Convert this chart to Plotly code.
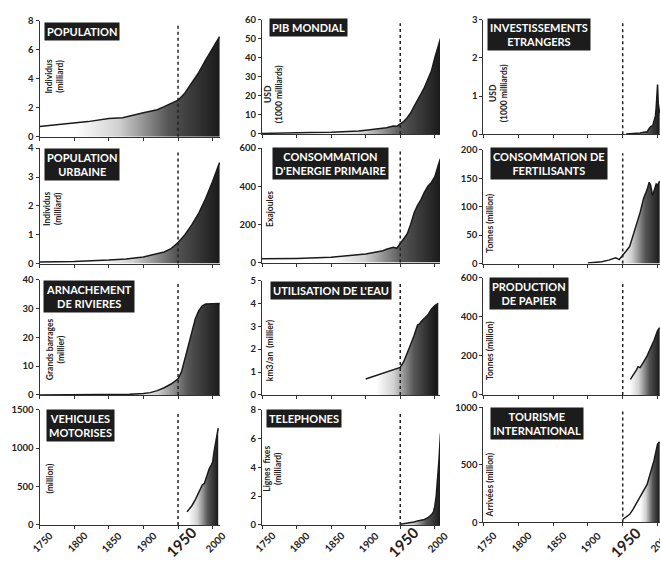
import plotly.graph_objects as go

W, H = 660, 562

# ---------------- data ----------------
pop_years = [1750, 1760, 1800, 1820, 1850, 1870, 1900, 1910, 1920, 1930, 1940, 1950, 1960, 1970, 1980, 1990, 2000, 2010]
pop_vals = [0.70, 0.75, 0.98, 1.04, 1.26, 1.30, 1.65, 1.75, 1.86, 2.07, 2.30, 2.52, 3.02, 3.70, 4.44, 5.30, 6.10, 6.90]

gdp_years = [1750, 1800, 1820, 1850, 1870, 1890, 1900, 1913, 1920, 1930, 1940, 1945, 1950, 1955, 1960, 1965, 1970, 1975, 1980, 1985, 1990, 1995, 2000, 2003, 2005, 2008, 2010]
gdp_vals = [0.3, 0.4, 0.7, 0.9, 1.1, 1.6, 2.0, 2.7, 2.7, 3.3, 4.2, 4.0, 5.3, 6.5, 8.5, 11, 14.5, 17.5, 21, 24.5, 29, 33, 40, 44, 47, 50, 51]

fdi_years = [1955, 1960, 1970, 1975, 1980, 1985, 1988, 1990, 1993, 1995, 1997, 1998, 1999, 2000, 2001, 2002, 2003]
fdi_vals = [0.005, 0.01, 0.015, 0.03, 0.05, 0.06, 0.15, 0.2, 0.22, 0.33, 0.48, 0.7, 1.1, 1.3, 0.8, 0.6, 0.55]

urb_years = [1750, 1800, 1850, 1875, 1900, 1920, 1930, 1940, 1950, 1960, 1970, 1980, 1990, 2000, 2010]
urb_vals = [0.05, 0.07, 0.12, 0.16, 0.23, 0.33, 0.40, 0.52, 0.73, 1.00, 1.35, 1.75, 2.26, 2.85, 3.50]

nrg_years = [1750, 1800, 1850, 1900, 1925, 1930, 1940, 1945, 1950, 1960, 1965, 1970, 1975, 1980, 1985, 1990, 1995, 2000, 2005, 2008]
nrg_vals = [20, 22, 28, 45, 62, 70, 80, 75, 100, 150, 200, 260, 300, 330, 370, 400, 420, 450, 510, 545]

fert_years = [1900, 1910, 1920, 1930, 1938, 1940, 1945, 1950, 1955, 1960, 1965, 1970, 1975, 1980, 1985, 1988, 1990, 1992, 1993, 1995, 1998, 2000, 2003]
fert_vals = [1, 2, 3, 6, 9, 10, 7, 14, 22, 30, 50, 68, 90, 115, 130, 143, 138, 125, 120, 128, 140, 138, 145]

dam_years = [1750, 1850, 1880, 1900, 1910, 1920, 1930, 1940, 1950, 1955, 1960, 1965, 1970, 1975, 1980, 1985, 1990, 2000, 2010]
dam_vals = [0.0, 0.05, 0.2, 0.5, 0.8, 1.5, 2.5, 3.8, 5.6, 8, 12.5, 17.5, 22.5, 26.5, 29.3, 31, 31.6, 31.8, 31.8]

water_years = [1900, 1910, 1920, 1930, 1940, 1950, 1955, 1960, 1965, 1970, 1975, 1978, 1980, 1985, 1990, 1995, 2000, 2005]
water_vals = [0.7, 0.8, 0.9, 1.0, 1.1, 1.2, 1.45, 1.8, 2.2, 2.6, 3.05, 3.1, 3.2, 3.35, 3.5, 3.75, 3.9, 4.0]

paper_years = [1961, 1965, 1970, 1972, 1975, 1980, 1985, 1990, 1995, 2000, 2003]
paper_vals = [80, 100, 130, 145, 140, 170, 200, 240, 280, 330, 345]

veh_years = [1963, 1970, 1975, 1980, 1985, 1988, 1990, 1995, 1998, 2000, 2002, 2005, 2008]
veh_vals = [170, 250, 330, 420, 520, 540, 600, 730, 780, 820, 950, 1100, 1260]

tel_years = [1950, 1960, 1970, 1975, 1980, 1985, 1990, 1995, 1998, 2000, 2002, 2004, 2006, 2008, 2010]
tel_vals = [0.05, 0.1, 0.2, 0.28, 0.33, 0.38, 0.5, 0.7, 0.9, 1.3, 2.0, 3.0, 4.5, 6.2, 7.0]

tour_years = [1950, 1955, 1960, 1965, 1970, 1975, 1980, 1985, 1990, 1995, 2000, 2003]
tour_vals = [25, 45, 70, 115, 165, 220, 275, 330, 440, 540, 680, 700]

tick_years = [1750, 1800, 1850, 1900, 1950, 2000]

titles = ["POPULATION", "PIB MONDIAL", "INVESTISSEMENTS<br>ETRANGERS",
          "POPULATION<br>URBAINE", "CONSOMMATION<br>D'ENERGIE PRIMAIRE", "CONSOMMATION DE<br>FERTILISANTS",
          "ARNACHEMENT<br>DE RIVIERES", "UTILISATION DE L'EAU", "PRODUCTION<br>DE PAPIER",
          "VEHICULES<br>MOTORISES", "TELEPHONES", "TOURISME<br>INTERNATIONAL"]
units = ["Individus<br>(milliard)", "USD<br>(1000 milliards)", "USD<br>(1000 milliards)",
         "Individus<br>(milliard)", "Exajoules", "Tonnes (million)",
         "Grands barrages<br>(millier)", "km3/an  (millier)", "Tonnes (million)",
         "(million)", "Lignes  fixes<br>(milliard)", "Arrivées (million)"]
series = [(pop_years, pop_vals), (gdp_years, gdp_vals), (fdi_years, fdi_vals),
          (urb_years, urb_vals), (nrg_years, nrg_vals), (fert_years, fert_vals),
          (dam_years, dam_vals), (water_years, water_vals), (paper_years, paper_vals),
          (veh_years, veh_vals), (tel_years, tel_vals), (tour_years, tour_vals)]
y_max = [8, 60, 3, 4, 600, 200, 40, 5, 600, 1500, 8, 1000]
y_step = [2, 10, 1, 1, 200, 50, 10, 1, 200, 500, 2, 500]

# ---------------- layout geometry (pixels) ----------------
col_px = [(39.5, 220), (262, 440), (483.3, 660)]
col_xmax = [2010.6, 2007.5, 2003.5]
row_px = [
    [(15, 133.3), (14, 130.5), (14, 130.7)],
    [(145, 262.7), (145, 261.7), (146.7, 262.7)],
    [(279.3, 396.7), (280, 396.7), (277.3, 396.7)],
    [(411.7, 529.3), (411.7, 529.3), (409.3, 526.7)],
]
title_pos = [(82, 26), (308, 22), (539, 29),
             (82, 162), (331, 161), (549, 161),
             (89, 296), (331, 290), (529, 293),
             (80, 428), (304, 421), (537, 426)]
unit_pos = [(55, 72), (273, 90), (498, 89),
            (53, 207), (270, 207), (490, 222),
            (55, 350), (270, 351), (490, 352),
            (50, 482), (273, 472), (490, 489)]
grad_range = [(1800, 2010), (1850, 2008), (1950, 2003),
              (1830, 2010), (1850, 2008), (1945, 2003),
              (1880, 2010), (1915, 2000), (1960, 2003),
              (1965, 2008), (1950, 2008), (1975, 2003)]

grad_scale = [[0, "#ffffff"], [0.3, "#d2d2d2"], [0.65, "#555555"], [1, "#1a1a1a"]]
FONT = "Lato"

fig = go.Figure()
layout = dict(width=W, height=H, margin=dict(l=0, r=0, t=0, b=0),
              paper_bgcolor="white", plot_bgcolor="white", showlegend=False)
shapes, annotations = [], []

for k in range(12):
    r, c = divmod(k, 3)
    i = k + 1
    xs, ys = series[k]
    xa = "x" if i == 1 else f"x{i}"
    ya = "y" if i == 1 else f"y{i}"
    fig.add_trace(go.Scatter(
        x=xs, y=ys, mode="lines", xaxis=xa, yaxis=ya,
        line=dict(color="#1a1a1a", width=1.5),
        fill="tozeroy",
        fillgradient=dict(type="horizontal", colorscale=grad_scale,
                          start=grad_range[k][0], stop=grad_range[k][1]),
        hoverinfo="skip"))
    x0p, x1p = col_px[c]
    t, b = row_px[r][c]
    layout[f"xaxis{i}" if i > 1 else "xaxis"] = dict(
        domain=[x0p / W, x1p / W], range=[1750, col_xmax[c]], anchor=ya,
        showgrid=False, zeroline=False, showline=True, linecolor="#333", linewidth=1,
        ticks="outside", ticklen=3, tickcolor="#333", tickvals=tick_years,
        showticklabels=False, fixedrange=True)
    layout[f"yaxis{i}" if i > 1 else "yaxis"] = dict(
        domain=[1 - b / H, 1 - t / H], range=[0, y_max[k]], anchor=xa,
        showgrid=False, zeroline=False, showline=True, linecolor="#333", linewidth=1,
        ticks="outside", ticklen=3, tickcolor="#333", dtick=y_step[k], tick0=0,
        tickfont=dict(family=FONT, size=9.5, color="#222", weight="bold"),
        fixedrange=True)
    # 1950 dotted line
    shapes.append(dict(type="line", xref=xa, yref=f"{ya} domain", x0=1950, x1=1950,
                       y0=0, y1=0.97, line=dict(color="#222", width=1.5, dash="dot")))
    # title box
    tx, ty = title_pos[k]
    annotations.append(dict(xref="paper", yref="paper", x=tx / W, y=1 - ty / H,
                            text=f"<b>{titles[k]}</b>", showarrow=False,
                            font=dict(family=FONT, size=11, color="white"),
                            bgcolor="#1c1c1c", borderpad=2, align="center",
                            xanchor="center", yanchor="middle"))
    # unit (y title)
    ux, uy = unit_pos[k]
    annotations.append(dict(xref="paper", yref="paper", x=ux / W, y=1 - uy / H,
                            text=f"<b>{units[k]}</b>", showarrow=False, textangle=-90,
                            font=dict(family=FONT, size=8.5, color="#222"),
                            align="center", xanchor="center", yanchor="middle"))
    # x tick labels for bottom row
    if r == 3:
        for yr in tick_years:
            big = yr == 1950
            annotations.append(dict(xref=xa, yref="paper", x=yr, y=1 - 547 / H,
                                    xshift=3, text=f"<b>{yr}</b>", showarrow=False,
                                    textangle=-45,
                                    font=dict(family=FONT, size=15 if big else 10, color="#222"),
                                    xanchor="center", yanchor="middle"))

layout["shapes"] = shapes
layout["annotations"] = annotations
fig.update_layout(**layout)
fig.write_html("out.html", config={"displayModeBar": False},
               post_script="document.body.style.margin='0px';")
